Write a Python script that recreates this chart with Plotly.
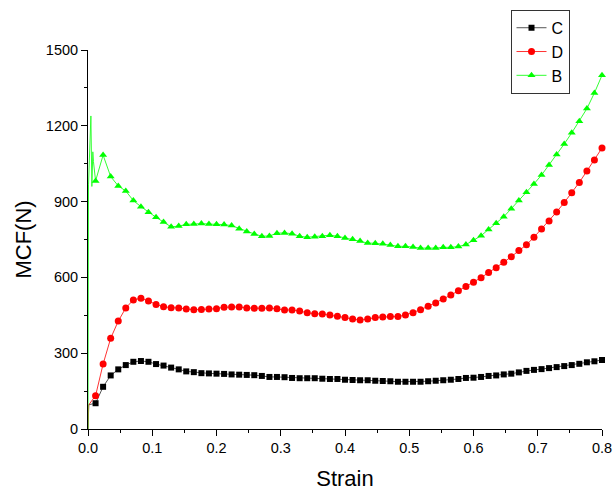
import plotly.graph_objects as go

# Strain grid of the marked points (k = 1..68)
strain = [0.0118, 0.0235, 0.0353, 0.0471, 0.0588, 0.0706, 0.0824, 0.0941, 0.1059, 0.1176,
          0.1294, 0.1412, 0.1529, 0.1647, 0.1765, 0.1882, 0.2000, 0.2118, 0.2235, 0.2353,
          0.2471, 0.2588, 0.2706, 0.2824, 0.2941, 0.3059, 0.3176, 0.3294, 0.3412, 0.3529,
          0.3647, 0.3765, 0.3882, 0.4000, 0.4118, 0.4235, 0.4353, 0.4471, 0.4588, 0.4706,
          0.4824, 0.4941, 0.5059, 0.5176, 0.5294, 0.5412, 0.5529, 0.5647, 0.5765, 0.5882,
          0.6000, 0.6118, 0.6235, 0.6353, 0.6471, 0.6588, 0.6706, 0.6824, 0.6941, 0.7059,
          0.7176, 0.7294, 0.7412, 0.7529, 0.7647, 0.7765, 0.7882, 0.8000]

mcf_C = [102, 167, 212, 236, 253, 266, 269, 266, 257, 251, 243, 236, 228, 225, 221, 220, 219, 218,
         216, 215, 214, 213, 210, 206, 206, 205, 202, 201, 201, 201, 199, 198, 198, 195, 194, 193,
         193, 191, 190, 189, 187, 187, 187, 187, 189, 191, 193, 195, 198, 202, 203, 206, 210, 212,
         216, 219, 224, 230, 234, 237, 241, 245, 249, 253, 258, 264, 268, 273]

mcf_D = [132, 257, 359, 427, 479, 511, 517, 507, 493, 484, 480, 479, 475, 472, 473, 475, 476, 482,
         483, 483, 479, 478, 478, 479, 476, 471, 471, 467, 460, 456, 455, 451, 446, 441, 435, 431,
         435, 441, 443, 445, 445, 451, 460, 472, 486, 499, 515, 530, 547, 564, 581, 599, 619, 638,
         660, 682, 706, 729, 759, 792, 823, 859, 896, 935, 976, 1021, 1065, 1112]

mcf_B = [982, 1084, 999, 962, 942, 904, 880, 858, 838, 819, 800, 803, 810, 811, 813, 811, 810, 809,
         805, 793, 782, 772, 763, 764, 775, 776, 773, 763, 759, 761, 763, 767, 763, 756, 751, 744,
         736, 735, 733, 728, 723, 723, 720, 716, 716, 716, 719, 719, 722, 730, 747, 765, 790, 814,
         840, 872, 904, 937, 970, 1005, 1045, 1086, 1128, 1172, 1218, 1268, 1330, 1400]

# Initial loading segments (unmarked points before the first marker)
start_C_x = [0, 0.0012, 0.0118]
start_C_y = [0, 96, 102]
start_D_x = [0, 0.0010, 0.0118]
start_D_y = [0, 95, 132]
start_B_x = [0, 0.0008, 0.0045, 0.0060, 0.0075, 0.0085, 0.0118]
start_B_y = [0, 966, 1239, 960, 1097, 1058, 982]

series = [
    ("C", start_C_x, start_C_y, mcf_C, "#000000", "#555555", "square", 6),
    ("D", start_D_x, start_D_y, mcf_D, "#FF0000", "#FF3333", "circle", 7),
    ("B", start_B_x, start_B_y, mcf_B, "#00FF00", "#33FF33", "triangle-up", 7),
]

fig = go.Figure()
for name, sx, sy, ys, mcol, lcol, sym, msz in series:
    fig.add_trace(go.Scatter(x=sx, y=sy, mode="lines", line=dict(color=lcol, width=1),
                             showlegend=False, legendgroup=name, cliponaxis=False,
                             hoverinfo="skip"))
    fig.add_trace(go.Scatter(x=strain, y=ys, mode="lines+markers", name=name,
                             legendgroup=name, cliponaxis=False,
                             line=dict(color=lcol, width=1),
                             marker=dict(symbol=sym, size=msz, color=mcol,
                                         line=dict(width=0))))

font = "Arial, Liberation Sans, sans-serif"
fig.update_layout(
    width=613, height=494,
    margin=dict(l=87.5, r=11, t=50, b=65, autoexpand=False),
    paper_bgcolor="white", plot_bgcolor="white",
    font=dict(family=font, color="black"),
    legend=dict(x=0.822, y=1.106, xanchor="left", yanchor="top",
                bordercolor="#333333", borderwidth=1, bgcolor="white",
                font=dict(size=16, family=font), tracegroupgap=0,
                itemwidth=30),
    xaxis=dict(range=[0, 0.8], tickvals=[0, 0.1, 0.2, 0.3, 0.4, 0.5, 0.6, 0.7, 0.8],
               tickformat=".1f", ticks="outside", ticklen=6, tickwidth=1, tickcolor="black",
               showline=True, linecolor="black", linewidth=1, showgrid=False, zeroline=False,
               tickfont=dict(size=14.5, family=font),
               minor=dict(tickvals=[0.05, 0.15, 0.25, 0.35, 0.45, 0.55, 0.65, 0.75],
                          ticks="outside", ticklen=3, tickcolor="black", showgrid=False),
               title=dict(text="Strain", font=dict(size=22, family=font), standoff=15)),
    yaxis=dict(range=[0, 1500], tickvals=[0, 300, 600, 900, 1200, 1500],
               ticks="outside", ticklen=6, tickwidth=1, tickcolor="black",
               showline=True, linecolor="black", linewidth=1, showgrid=False, zeroline=False,
               tickfont=dict(size=14.5, family=font),
               minor=dict(tickvals=[150, 450, 750, 1050, 1350],
                          ticks="outside", ticklen=3, tickcolor="black", showgrid=False),
               title=dict(text="MCF(N)", font=dict(size=22, family=font), standoff=8)),
)

fig.write_html("out.html")
